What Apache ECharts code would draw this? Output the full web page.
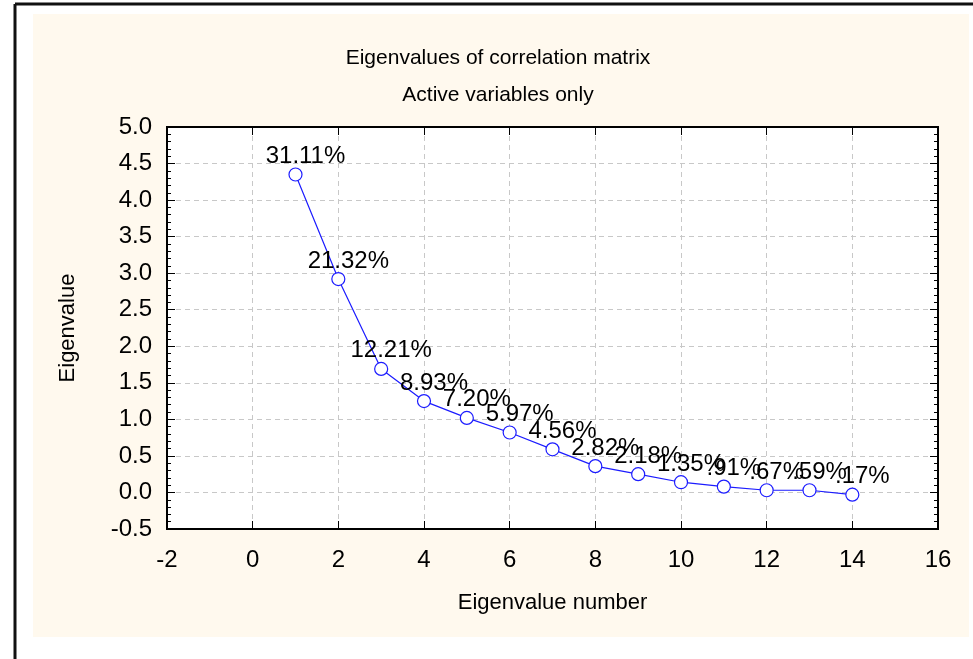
<!DOCTYPE html>
<html>
<head>
<meta charset="utf-8">
<script src="https://cdn.jsdelivr.net/npm/echarts@6/dist/echarts.min.js"></script>
<style>
  html, body { margin: 0; padding: 0; background: #fff; }
  #main { width: 973px; height: 659px; }
</style>
</head>
<body>
<div id="main"></div>
<script>
// eigenvalue number, eigenvalue and % of variance
var eigenNumbers = [1, 2, 3, 4, 5, 6, 7, 8, 9, 10, 11, 12, 13, 14];
var eigenvalues = [4.35, 2.92, 1.69, 1.25, 1.02, 0.82, 0.59, 0.36, 0.25, 0.14, 0.08, 0.03, 0.03, -0.03];
var percentLabels = ['31.11%', '21.32%', '12.21%', '8.93%', '7.20%', '5.97%', '4.56%',
    '2.82%', '2.18%', '1.35%', '.91%', '.67%', '.59%', '.17%'];

var FONT = 'Arial, "Liberation Sans", sans-serif';

var chart = echarts.init(document.getElementById('main'));

var points = eigenNumbers.map(function (n, i) {
    return [n, eigenvalues[i]];
});

var axisLine = { show: true, onZero: false, lineStyle: { color: '#000', width: 2 } };
var tickStyle = { show: true, inside: true, length: 8, lineStyle: { color: '#000', width: 1 } };
var minorStyle = { show: true, splitNumber: 5, length: 4, lineStyle: { color: '#000', width: 1 } };
var gridLine = { show: true, lineStyle: { color: '#c8c8c8', type: [5, 4], width: 1 } };

var option = {
    backgroundColor: '#fff',
    animation: false,
    graphic: [
        { type: 'rect', z: -10, shape: { x: 33, y: 14, width: 936, height: 623 }, style: { fill: '#fff9ee' } },
        { type: 'line', z: -5, shape: { x1: 15, y1: 4, x2: 973, y2: 4 }, style: { stroke: '#111', lineWidth: 3 } },
        { type: 'line', z: -5, shape: { x1: 15, y1: 4, x2: 15, y2: 659 }, style: { stroke: '#111', lineWidth: 3 } },
        {
            type: 'text', x: 498, y: 58,
            style: { text: 'Eigenvalues of correlation matrix', font: '21px ' + FONT, fill: '#000', textAlign: 'center', textVerticalAlign: 'middle' }
        },
        {
            type: 'text', x: 498, y: 95,
            style: { text: 'Active variables only', font: '21px ' + FONT, fill: '#000', textAlign: 'center', textVerticalAlign: 'middle' }
        }
    ],
    grid: {
        left: 167,
        right: 35,
        top: 127,
        bottom: 130,
        show: true,
        backgroundColor: '#fff',
        borderColor: '#000',
        borderWidth: 2
    },
    xAxis: [{
        type: 'value',
        position: 'bottom',
        min: -2,
        max: 16,
        interval: 2,
        name: 'Eigenvalue number',
        nameLocation: 'middle',
        nameGap: 63,
        nameTextStyle: { fontFamily: FONT, fontSize: 22, color: '#000' },
        axisLine: axisLine,
        axisTick: tickStyle,
        axisLabel: { fontFamily: FONT, fontSize: 24, color: '#000', margin: 19 },
        splitLine: gridLine
    }, {
        type: 'value',
        position: 'top',
        min: -2,
        max: 16,
        interval: 2,
        axisLine: axisLine,
        axisTick: tickStyle,
        axisLabel: { show: false },
        splitLine: { show: false }
    }],
    yAxis: [{
        type: 'value',
        position: 'left',
        min: -0.5,
        max: 5,
        interval: 0.5,
        name: 'Eigenvalue',
        nameLocation: 'middle',
        nameGap: 88,
        nameTextStyle: { fontFamily: FONT, fontSize: 22, color: '#000' },
        axisLine: axisLine,
        axisTick: tickStyle,
        minorTick: minorStyle,
        axisLabel: {
            fontFamily: FONT, fontSize: 24, color: '#000', margin: 15,
            formatter: function (v) { return v.toFixed(1); }
        },
        splitLine: gridLine
    }, {
        type: 'value',
        position: 'right',
        min: -0.5,
        max: 5,
        interval: 0.5,
        axisLine: axisLine,
        axisTick: tickStyle,
        minorTick: minorStyle,
        axisLabel: { show: false },
        splitLine: { show: false }
    }],
    series: [{
        type: 'line',
        data: points,
        xAxisIndex: 0,
        yAxisIndex: 0,
        symbol: 'circle',
        symbolSize: 13,
        itemStyle: { color: '#fff', borderColor: '#1c1cff', borderWidth: 1.2 },
        lineStyle: { color: '#1c1cff', width: 1.2 },
        label: {
            show: true,
            position: 'top',
            distance: -1,
            offset: [10, 0],
            fontFamily: FONT,
            fontSize: 24,
            color: '#000',
            formatter: function (p) { return percentLabels[p.dataIndex]; }
        }
    }]
};

chart.setOption(option);
</script>
</body>
</html>
